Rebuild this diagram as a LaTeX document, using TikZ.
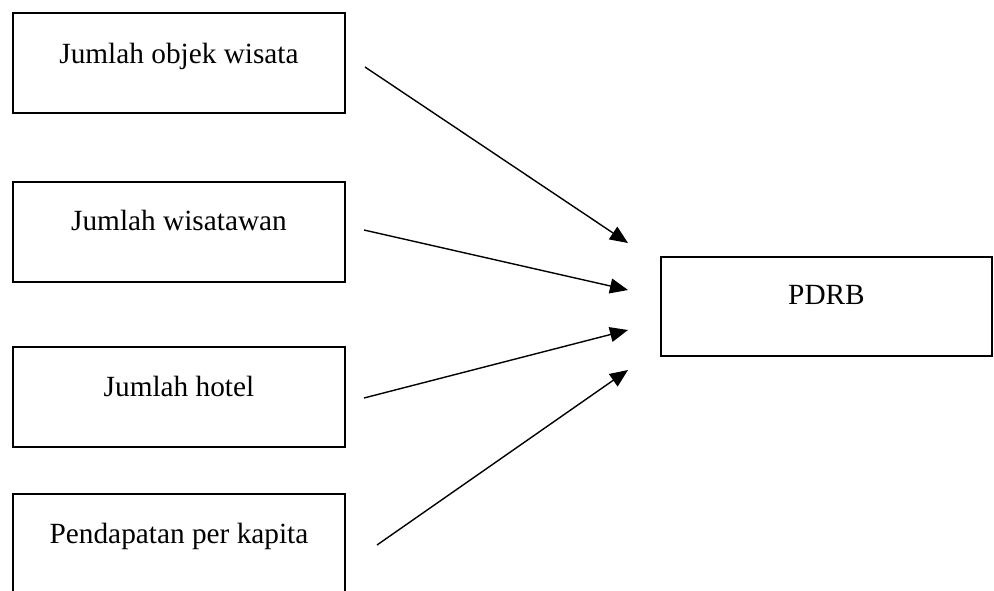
\documentclass[tikz,border=0pt]{standalone}
\usepackage{fontspec}
\setmainfont{Liberation Serif}
\usetikzlibrary{arrows.meta}
\begin{document}
\begin{tikzpicture}[x=1pt,y=-1pt,
  box/.style={draw,line width=2.3pt,minimum width=332pt,minimum height=100pt,inner sep=0pt,outer sep=0pt},
  lbl/.style={anchor=base,inner sep=0pt,font=\fontsize{29.3}{34}\selectfont},
  conn/.style={line width=1.4pt,-{Triangle[length=18pt,width=15pt]}}]
\useasboundingbox (0,0) rectangle (994,590);
\clip (0,0) rectangle (994,590);
\node[box] (b1) at (179,63) {};
\node[box] (b2) at (179,232) {};
\node[box] (b3) at (179,397) {};
\node[box] (b4) at (179,544) {};
\node[box,minimum width=331pt,minimum height=99pt] (p) at (826.5,306.5) {};
\node[lbl] (t1) at (179,63) {Jumlah objek wisata};
\node[lbl] (t2) at (179,230) {Jumlah wisatawan};
\node[lbl] (t3) at (179,396) {Jumlah hotel};
\node[lbl] (t4) at (179,543) {Pendapatan per kapita};
\node[lbl] (tp) at (826.5,304) {PDRB};
\coordinate (s1) at (365,67);
\coordinate (s2) at (364,230);
\coordinate (s3) at (364,398);
\coordinate (s4) at (377,545);
\coordinate (e1) at (628,243);
\coordinate (e2) at (628,290);
\coordinate (e3) at (628,330);
\coordinate (e4) at (628,370);
\draw[conn] (s1) -- (e1);
\draw[conn] (s2) -- (e2);
\draw[conn] (s3) -- (e3);
\draw[conn] (s4) -- (e4);
\end{tikzpicture}
\end{document}
